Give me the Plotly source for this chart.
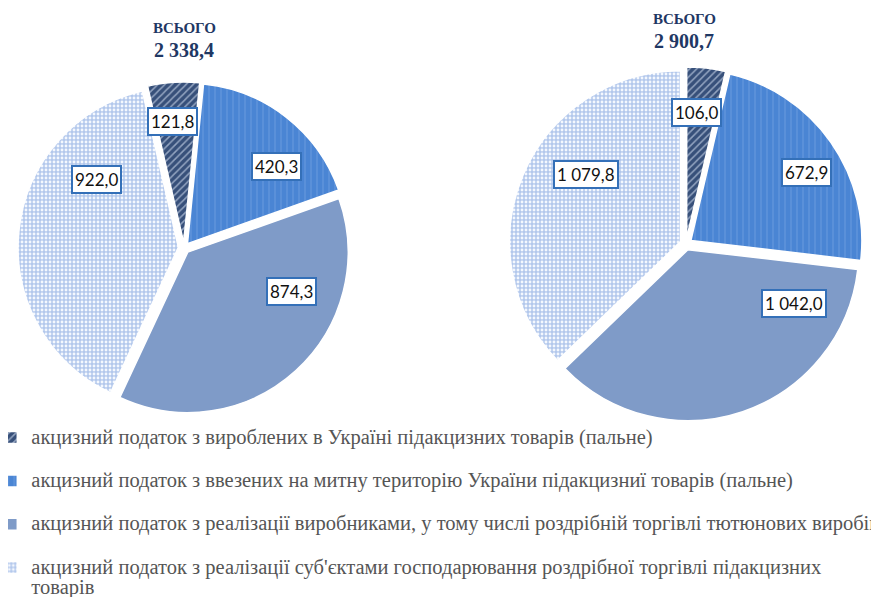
import math
import plotly.graph_objects as go

# ---------------- data ----------------
CATEGORIES = [
    "акцизний податок з вироблених в Україні підакцизних товарів (пальне)",
    "акцизний податок з ввезених на митну територію України підакцизниї товарів (пальне)",
    "акцизний податок з реалізації виробниками, у тому числі роздрібній торгівлі тютюнових виробів",
    "акцизний податок з реалізації суб'єктами господарювання роздрібної торгівлі підакцизних<br>товарів",
]
VALUES_LEFT = [121.8, 420.3, 874.3, 922.0]
VALUES_RIGHT = [106.0, 672.9, 1042.0, 1079.8]
TOTAL_CAPTION = "ВСЬОГО"

# ---------------- style ----------------
W, H = 879, 597
BG = ["#37507A", "#4A85D4", "#7F9BC8", "#B3C8EC"]
FG = ["#93A4C0", "#7EA9E4", "#7F9BC8", "#F4F8FE"]
SHAPES = ["/", "|", "", "."]
PSIZE = [5, 6, 8, 4]
PSOLID = [0.3, 0.1, 0.3, 0.4]
PULL = 0.035
SERIF = "Liberation Serif, Times New Roman, serif"

# pie placement in pixels (center x, center y from top, outer radius incl. pull)
PIES = [
    dict(values=VALUES_LEFT, cx=176, cy=240, R=166, rotation=-13, tx=176, ty=20),
    dict(values=VALUES_RIGHT, cx=678, cy=236, R=177, rotation=0, tx=676, ty=11),
]
# label placement inside each slice: fraction along angular span, fraction of radius
LABEL_SPAN = [[0.45, 0.71, 0.33, 0.71], [0.45, 0.59, 0.19, 0.57]]
LABEL_RAD = [[0.75, 0.75, 0.75, 0.66], [0.73, 0.81, 0.75, 0.68]]
LABEL_SHIFT = (-2, -7)  # px nudge of value boxes


def fmt(v):
    return f"{v:,.1f}".replace(",", " ").replace(".", ",")


legend_labels = []
for i, c in enumerate(CATEGORIES):
    lab = f'<span style="font-size:20.5px">{c}</span>'
    if i < len(CATEGORIES) - 1:
        lab += "<br> "
    legend_labels.append(lab)

fig = go.Figure()
annotations = []
for k, p in enumerate(PIES):
    R = p["R"]
    dom_x = [(p["cx"] - R) / W, (p["cx"] + R) / W]
    dom_y = [1 - (p["cy"] + R) / H, 1 - (p["cy"] - R) / H]
    fig.add_trace(go.Pie(
        labels=legend_labels,
        values=p["values"],
        sort=False,
        direction="clockwise",
        rotation=p["rotation"],
        pull=[PULL] * len(p["values"]),
        textinfo="none",
        hoverinfo="value",
        showlegend=(k == 0),
        domain=dict(x=dom_x, y=dom_y),
        marker=dict(
            colors=BG,
            line=dict(color="white", width=1.5),
            pattern=dict(shape=SHAPES, bgcolor=BG, fgcolor=FG,
                         size=PSIZE, solidity=PSOLID, fillmode="replace"),
        ),
    ))
    total = sum(p["values"])
    r = R / (1 + PULL)
    start = p["rotation"]
    for j, v in enumerate(p["values"]):
        span = v / total * 360
        ang = math.radians(start + span * LABEL_SPAN[k][j])
        d = r * LABEL_RAD[k][j]
        px = p["cx"] + d * math.sin(ang) + LABEL_SHIFT[0]
        py = p["cy"] - d * math.cos(ang) + LABEL_SHIFT[1]
        annotations.append(dict(
            x=px / W, y=1 - py / H, xref="paper", yref="paper",
            xanchor="center", yanchor="middle",
            text=fmt(v), showarrow=False,
            font=dict(family="Lato, Liberation Sans, sans-serif", size=17, color="#111111"),
            bgcolor="white", bordercolor="#3470B8", borderwidth=2, borderpad=2,
        ))
        start += span
    annotations.append(dict(
        x=p["tx"] / W, y=1 - p["ty"] / H, xref="paper", yref="paper",
        xanchor="center", yanchor="middle",
        text=f"<b>{TOTAL_CAPTION}</b>", showarrow=False,
        font=dict(family=SERIF, size=15, color="#1F3864"),
    ))
    annotations.append(dict(
        x=p["tx"] / W, y=1 - (p["ty"] + 22) / H, xref="paper", yref="paper",
        xanchor="center", yanchor="middle",
        text=f"<b>{fmt(total)}</b>", showarrow=False,
        font=dict(family=SERIF, size=20, color="#1F3864"),
    ))

fig.update_layout(
    width=W, height=H,
    margin=dict(l=0, r=0, t=0, b=0, autoexpand=False),
    font=dict(family=SERIF),
    paper_bgcolor="white",
    plot_bgcolor="white",
    annotations=annotations,
    legend=dict(
        x=-0.019, y=1 - 413 / H, xanchor="left", yanchor="top",
        orientation="v", valign="top",
        font=dict(family=SERIF, size=15.5, color="#555555"),
        bgcolor="rgba(0,0,0,0)",
    ),
)

fig.write_html("out.html")
